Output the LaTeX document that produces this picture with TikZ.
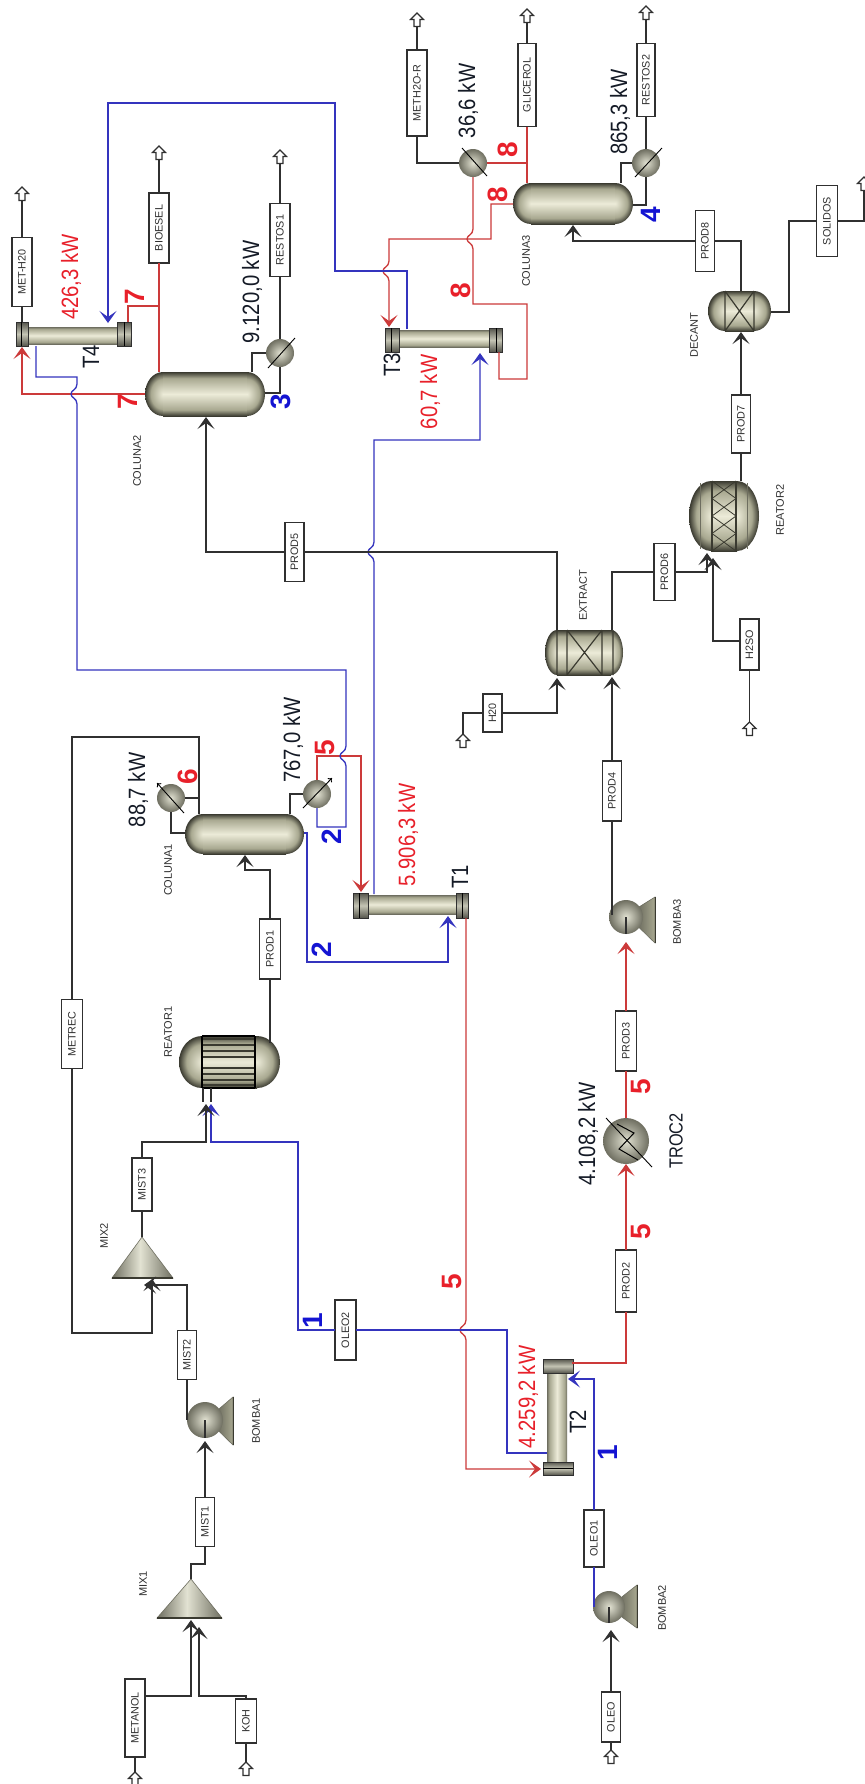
\documentclass[tikz,border=0pt]{standalone}
\usepackage{fontspec}
\setmainfont{Liberation Sans}
\newfontfamily\bigf[FakeStretch=0.86]{Liberation Sans}
\usetikzlibrary{arrows.meta}
\definecolor{vd}{HTML}{3A3A30}
\definecolor{vm}{HTML}{A8A890}
\definecolor{vl}{HTML}{ECEBD8}
\definecolor{hl}{HTML}{E2E2D2}
\definecolor{hd}{HTML}{6E6E60}
\definecolor{fd}{HTML}{55554C}
\definecolor{fl}{HTML}{C4C4B4}
\definecolor{redl}{HTML}{CC3A3A}
\definecolor{bluel}{HTML}{3434BE}
\definecolor{blkl}{HTML}{303030}
\definecolor{redt}{HTML}{E8202A}
\definecolor{bluet}{HTML}{1414D2}
\definecolor{inkt}{HTML}{141A26}
\pgfdeclareverticalshading{vess}{100bp}{color(0bp)=(vd); color(25bp)=(vd); color(32bp)=(vm); color(50bp)=(vl); color(68bp)=(vm); color(75bp)=(vd); color(100bp)=(vd)}
\pgfdeclareverticalshading{tubes}{100bp}{color(0bp)=(hd); color(25bp)=(hd); color(31bp)=(vm); color(50bp)=(vl); color(69bp)=(vm); color(75bp)=(hd); color(100bp)=(hd)}
\pgfdeclareverticalshading{flng}{100bp}{color(0bp)=(fd); color(25bp)=(fd); color(50bp)=(fl); color(75bp)=(fd); color(100bp)=(fd)}
\pgfdeclarehorizontalshading{cone}{100bp}{color(0bp)=(hd); color(25bp)=(hd); color(48bp)=(hl); color(75bp)=(hd); color(100bp)=(hd)}
\pgfdeclareradialshading{vball}{\pgfpoint{0bp}{0bp}}{color(0bp)=(vl); color(17bp)=(vm); color(25bp)=(vd); color(50bp)=(vd)}
\pgfdeclareradialshading{hball}{\pgfpoint{0bp}{0bp}}{color(0bp)=(hl); color(25bp)=(hd); color(50bp)=(hd)}
\tikzset{
  x=0.5pt,y=-0.5pt,
  blk/.style={draw=blkl,line width=0.65pt},
  rd/.style={draw=redl,line width=0.65pt},
  bl/.style={draw=bluel,line width=0.65pt},
  arr/.style={-{Stealth[length=6pt,width=8.5pt,inset=3pt]}},
  unitnode/.style={inner sep=0pt,outer sep=0pt},
  stream/.style={draw=blkl,fill=white,line width=0.6pt,inner sep=0pt,outer sep=0pt,font=\fontsize{5.4}{6}\selectfont,text=blkl},
  sml/.style={inner sep=0pt,rotate=90,font=\fontsize{5.5}{6}\selectfont,text=blkl},
  bigk/.style={inner sep=0pt,rotate=90,font=\bigf\fontsize{11.8}{13}\selectfont,text=inkt},
  bigr/.style={bigk,text=redt},
  midk/.style={inner sep=0pt,rotate=90,font=\bigf\fontsize{9.5}{11}\selectfont,text=inkt},
  rnum/.style={inner sep=0pt,rotate=90,font=\bfseries\fontsize{14}{15}\selectfont,text=redt},
  bnum/.style={rnum,text=bluet},
  hxball/.style={circle,shade,shading=hball,inner sep=0pt,outer sep=0pt},
  hxline/.style={black,line width=0.45pt},
}
\newcommand\sbx[6]{\node[stream,minimum width=#4*0.5pt,minimum height=#5*0.5pt] (#1) at (#2,#3) {\rotatebox{90}{#6}};}
\newcommand\vessel[6]{%
  \pgfmathsetmacro\myvr{(#5-#3)/2}\pgfmathsetmacro\myvc{(#5+#3)/2}%
  \shade[shading=vball] (#2+#6,\myvc) ellipse [x radius=#6,y radius=\myvr];
  \shade[shading=vball] (#4-#6,\myvc) ellipse [x radius=#6,y radius=\myvr];
  \shade[shading=vess] (#2+#6,#3) rectangle (#4-#6,#5);
  \node[unitnode,minimum width={(#4-#2)*0.5pt},minimum height={(#5-#3)*0.5pt}] (#1) at ({(#2+#4)/2},\myvc) {};
}
\newcommand\thx[9]{%
  \shade[shading=tubes] (#2+#6,#8) rectangle (#3-#7,#9);
  \shade[shading=flng,draw=blkl,line width=0.4pt] (#2,#4) rectangle (#2+#6,#5);
  \shade[shading=flng,draw=blkl,line width=0.4pt] (#3-#7,#4) rectangle (#3,#5);
  \draw[black,line width=0.4pt] (#2+#6*0.45,#4) -- (#2+#6*0.45,#5) (#3-#7*0.45,#4) -- (#3-#7*0.45,#5);
  \node[unitnode,minimum width={(#3-#2)*0.5pt},minimum height={(#5-#4)*0.5pt}] (#1) at ({(#2+#3)/2},{(#4+#5)/2}) {};
}
\newcommand\pump[7]{%
  \shade[left color=hd,right color=vm,draw=hd,line width=0.3pt] (#2+#4*0.7,#3-#4*0.55) -- (#5,#6) -- (#5,#7) -- (#2+#4*0.7,#3+#4*0.55) -- cycle;
  \draw[vd,line width=0.5pt] (#5,#6) -- (#5,#7);
  \node[hxball,minimum size=#4*1pt] (#1) at (#2,#3) {};
  \draw[blkl,line width=0.6pt] (#1.center) -- (#1.south);
}
\newcommand\mixer[6]{%
  \shade[shading=cone,draw=hd,line width=0.3pt] (#2,#3) -- (#6,#4) -- (#5,#4) -- cycle;
  \draw[vd,line width=0.7pt] (#5,#4) -- (#6,#4);
  \node[unitnode,minimum width={(#6-#5)*0.5pt},minimum height={(#4-#3)*0.5pt}] (#1) at (#2,{(#3+#4)/2}) {};
}
% hollow up arrow: name, cx, cy
\newcommand\outa[3]{%
  \draw[blkl,fill=white,line width=0.6pt,line join=miter] (#2,#3-7) -- (#2+6.5,#3-0.5) -- (#2+3,#3-0.5) -- (#2+3,#3+6.5) -- (#2-3,#3+6.5) -- (#2-3,#3-0.5) -- (#2-6.5,#3-0.5) -- cycle;
  \node[unitnode,minimum width=6.5pt,minimum height=6.75pt] (#1) at (#2,#3-0.25) {};
}
\newcommand\jv[2]{-- (#1,#2-10) .. controls (#1,#2-4) and (#1-6,#2-4) .. (#1-6,#2) .. controls (#1-6,#2+4) and (#1,#2+4) .. (#1,#2+10)}
\newcommand\jvu[2]{-- (#1,#2+10) .. controls (#1,#2+4) and (#1-6,#2+4) .. (#1-6,#2) .. controls (#1-6,#2-4) and (#1,#2-4) .. (#1,#2-10)}
\begin{document}
\begin{tikzpicture}
\useasboundingbox (0,0) rectangle (865,1784);
\fill[white] (0,0) rectangle (865,1784);
% ---------- equipment
\vessel{COL2}{145}{372}{265}{416}{18}
\vessel{COL3}{513}{183}{633}{224}{18}
\vessel{COL1}{185}{814}{304}{854}{18}
\vessel{REA1}{179}{1036}{280}{1088}{23}
\vessel{EXT}{545}{630}{623}{675}{12}
\vessel{REA2}{689}{481}{759}{551}{22}
\vessel{DEC}{708}{291}{771}{331}{17}
\foreach \yy in {1039,1045,1051,1057,1068,1074,1080,1085} \draw[vd,line width=1pt] (202,\yy) -- (255,\yy);
\draw[black,line width=0.6pt] (202,1036) -- (202,1088) (255,1036) -- (255,1088) (202,1036) -- (255,1036) (202,1088) -- (255,1088);
\draw[vd,line width=0.6pt] (557,630) -- (557,675) (567,630) -- (567,675) (602,630) -- (602,675) (613,630) -- (613,675) (567,630) -- (602,675) (602,630) -- (567,675);
\draw[vd,line width=0.6pt] (712,481) -- (712,551) (736,481) -- (736,551);
\draw[hd,line width=0.5pt] (700,483) -- (700,549) (747,483) -- (747,549);
\foreach \ya/\yb in {481/498.5,498.5/516,516/533.5,533.5/551} \draw[vd,line width=0.4pt] (712,\ya) -- (736,\yb) (736,\ya) -- (712,\yb);
\draw[vd,line width=0.6pt] (725,291) -- (725,331) (754,291) -- (754,331) (725,291) -- (754,331) (754,291) -- (725,331);
\thx{T4}{16}{131}{322}{346}{12}{14}{327}{344}
\thx{T3}{385}{502}{328}{352}{14}{13}{330}{347}
\thx{T1}{353}{468}{893}{918}{15}{12}{895}{914}
\shade[shading=tubes,shading angle=90] (547,1373) rectangle (567,1462);
\shade[shading=flng,draw=blkl,line width=0.4pt] (543,1359) rectangle (573,1373);
\shade[shading=flng,draw=blkl,line width=0.4pt] (543,1462) rectangle (573,1475);
\draw[black,line width=0.4pt] (543,1468) -- (573,1468);
\node[unitnode,minimum width=15pt,minimum height=58pt] (T2) at (558,1417) {};
\node[hxball,minimum size=14pt] (HX2) at (280,353) {};
\node[hxball,minimum size=14pt] (HXC3) at (473,163) {};
\node[hxball,minimum size=14pt] (HXB3) at (646,163) {};
\node[hxball,minimum size=14pt] (HXT1) at (171,798) {};
\node[hxball,minimum size=14pt] (HXB1) at (317,794) {};
\node[hxball,minimum size=23pt] (TROC) at (626,1141) {};
\draw[hxline] (268,368) -- (295,338);
\draw[hxline] (462,148) -- (487,176);
\draw[hxline] (635,177) -- (662,148);
\draw[hxline,{To[length=1.8pt,width=3pt]}-] (157,783) -- (184,813);
\draw[hxline,-{To[length=1.8pt,width=3pt]}] (303,808) -- (332,778);
\draw[hxline] (606,1118) -- (652,1167);
\draw[black,line width=0.5pt] (617,1124) -- (634,1133) -- (619,1149) -- (638,1160);
\pump{BOM1}{205}{1420}{18}{233}{1397}{1445}
\pump{BOM3}{626}{917}{17}{655}{897}{943}
\pump{BOM2}{609}{1607}{16}{637}{1585}{1628}
\mixer{MX2}{142}{1237}{1278}{112}{173}
\mixer{MX1}{191}{1579}{1618}{157}{222}
% ---------- stream boxes
\sbx{sMETH}{22}{272}{20}{69}{MET-H20}
\sbx{sBIO}{159}{228}{20}{70}{BIOESEL}
\sbx{sRES1}{280}{240}{20}{73}{RESTOS1}
\sbx{sMETHR}{417}{93}{20}{86}{METH2O-R}
\sbx{sGLI}{527}{85}{18}{83}{GLICEROL}
\sbx{sRES2}{646}{80}{18}{73}{RESTOS2}
\sbx{sP8}{705}{241}{19}{61}{PROD8}
\sbx{sSOL}{827}{221}{21}{71}{SOLIDOS}
\sbx{sP7}{741}{424}{19}{58}{PROD7}
\sbx{sP6}{664.5}{572}{21}{57}{PROD6}
\sbx{sH2S}{749.5}{644.5}{19}{51}{H2SO}
\sbx{sH20}{492.5}{713}{19}{38}{H20}
\sbx{sP4}{612}{791}{19}{60}{PROD4}
\sbx{sP5}{294.5}{552}{19}{59}{PROD5}
\sbx{sP1}{270}{949}{21}{60}{PROD1}
\sbx{sMETR}{72}{1034}{21}{69}{METREC}
\sbx{sM3}{142}{1184.5}{20}{53}{MIST3}
\sbx{sM2}{187}{1355}{19}{49}{MIST2}
\sbx{sM1}{205}{1522}{19}{49}{MIST1}
\sbx{sO2}{345.5}{1330}{21}{60}{OLEO2}
\sbx{sMET}{135}{1718}{20}{78}{METANOL}
\sbx{sKOH}{246}{1721}{21}{44}{KOH}
\sbx{sP3}{626}{1041}{21}{60}{PROD3}
\sbx{sP2}{626}{1281}{21}{62}{PROD2}
\sbx{sO1}{594}{1538.5}{20}{57}{OLEO1}
\sbx{sOL}{611}{1717}{19}{50}{OLEO}
% ---------- hollow terminal arrows
\outa{aMETH}{22}{194}
\outa{aBIO}{159}{153}
\outa{aRES1}{280}{157}
\outa{aMETHR}{417}{20}
\outa{aGLI}{527}{16}
\outa{aRES2}{646}{13}
\outa{aSOL}{864}{184}
\outa{aH20}{463}{741}
\outa{aH2S}{749.5}{729}
\outa{aMET}{135}{1779}
\outa{aKOH}{246}{1769}
\outa{aOL}{611}{1757}
% ---------- ports
\coordinate (T4blue) at (108,323);
\coordinate (T4o) at (36,346);
\coordinate (T4r) at (128,322);
\coordinate (T4l) at (22,347);
\coordinate (T4t) at (22,322);
\coordinate (T3o) at (407,329);
\coordinate (T3i) at (389,327);
\coordinate (T3r) at (499,352);
\coordinate (T3b) at (480,353);
\coordinate (T1i) at (361,892);
\coordinate (T1o) at (374,894);
\coordinate (T1b) at (448,916);
\coordinate (T1r) at (466,918);
\coordinate (T2i) at (541,1469);
\coordinate (T2b) at (547,1453);
\coordinate (T2r) at (572,1363);
\coordinate (T2c) at (568,1379);
\coordinate (C2t) at (159,372);
\coordinate (C2b) at (252,372);
\coordinate (C2w) at (145,394);
\coordinate (C2e) at (265,393);
\coordinate (C2i) at (206,417);
\coordinate (C3t) at (527,183);
\coordinate (C3w) at (513,204);
\coordinate (C3b) at (621,183);
\coordinate (C3e) at (633,205);
\coordinate (C3i) at (573,225);
\coordinate (C1t) at (199,814);
\coordinate (C1w) at (185,833);
\coordinate (C1b) at (290,814);
\coordinate (C1e) at (304,833);
\coordinate (C1i) at (245,855);
\coordinate (R1o) at (270,1043);
\coordinate (R1k) at (206,1104);
\coordinate (R1b) at (211,1104);
\coordinate (DECi) at (741,332);
\coordinate (DECt) at (741,291);
\coordinate (DECe) at (771,312);
\coordinate (R2t) at (741,481);
\coordinate (R2a) at (707,553);
\coordinate (R2b) at (713,558);
\coordinate (EXo) at (612,630);
\coordinate (EXp) at (557,630);
\coordinate (EXa) at (557,678);
\coordinate (EXb) at (612,677);
\coordinate (B3o) at (612,915);
\coordinate (B3i) at (626,942);
\coordinate (B2o) at (594,1607);
\coordinate (B2i) at (611,1630);
\coordinate (B1i) at (205,1441);
\coordinate (M2a) at (152,1279);
\coordinate (M2b) at (144,1285);
\coordinate (M1a) at (191,1620);
\coordinate (M1b) at (199,1627);
\coordinate (H2w) at (740,641);
\coordinate (MTe) at (145,1696);
\coordinate (KOt) at (246,1699);
% ---------- red connectors
\draw[rd,arr] (C3w) -- (491,204) -- (491,239) -- (389,239) \jv{389}{271} -- (T3i);
\draw[rd] (HXC3.south) \jv{473}{239} -- (473,304) -- (527,304) -- (527,379) -- (499,379) -- (T3r);
\draw[rd] (HXC3.east) -- (527,163);
\draw[rd] (sGLI.south) -- (C3t);
\draw[rd] (sBIO.south) -- (C2t);
\draw[rd] (159,306) -- (128,306) -- (T4r);
\draw[rd,arr] (C2w) -- (22,394) -- (T4l);
\draw[rd,arr] (HXB1.north) -- (317,756) -- (361,756) -- (T1i);
\draw[rd,arr] (T1r) \jv{466}{1330} -- (466,1469) -- (T2i);
\draw[rd] (T2r) -- (626,1363) -- (sP2.south);
\draw[rd,arr] (sP2.north) -- (TROC.south);
\draw[rd] (TROC.north) -- (sP3.south);
\draw[rd,arr] (sP3.north) -- (B3i);
% ---------- blue connectors
\draw[bl,arr] (T3o) -- (407,271) -- (335,271) -- (335,103) -- (108,103) -- (T4blue);
\draw[bl] (T4o) -- (36,377) -- (77,377) \jv{77}{394} -- (77,670) -- (346,670) \jv{346}{756} -- (346,827) -- (317,827) -- (HXB1.south);
\draw[bl,arr] (T1o) \jvu{374}{552} -- (374,440) -- (480,440) -- (T3b);
\draw[bl,arr] (C1e) -- (307,833) -- (307,962) -- (448,962) -- (T1b);
\draw[bl] (T2b) -- (507,1453) -- (507,1330) -- (sO2.east);
\draw[bl,arr] (sO2.west) -- (298,1330) -- (298,1142) -- (211,1142) -- (R1b);
\draw[bl,arr] (sO1.north) -- (594,1379) -- (T2c);
\draw[bl] (B2o) -- (sO1.south);
% ---------- black connectors
\draw[blk] (T4t) -- (sMETH.south);
\draw[blk] (sMETH.north) -- (aMETH.south);
\draw[blk] (sBIO.north) -- (aBIO.south);
\draw[blk] (sRES1.north) -- (aRES1.south);
\draw[blk] (sMETHR.north) -- (aMETHR.south);
\draw[blk] (sGLI.north) -- (aGLI.south);
\draw[blk] (sRES2.north) -- (aRES2.south);
\draw[blk] (C2b) -- (252,353) -- (HX2.west);
\draw[blk] (HX2.south) -- (280,393) -- (C2e);
\draw[blk] (HX2.north) -- (sRES1.south);
\draw[blk] (sMETHR.south) -- (417,163) -- (HXC3.west);
\draw[blk] (C3b) -- (621,163) -- (HXB3.west);
\draw[blk] (HXB3.south) -- (646,205) -- (C3e);
\draw[blk] (HXB3.north) -- (sRES2.south);
\draw[blk,arr] (sP8.west) -- (573,241) -- (C3i);
\draw[blk] (DECt) -- (741,241) -- (sP8.east);
\draw[blk] (DECe) -- (789,312) -- (789,221) -- (sSOL.west);
\draw[blk] (sSOL.east) -- (864,221) -- (aSOL.south);
\draw[blk] (R2t) -- (sP7.south);
\draw[blk,arr] (sP7.north) -- (DECi);
\draw[blk,arr] (sP6.east) -- (707,572) -- (R2a);
\draw[blk,arr] (H2w) -- (713,641) -- (R2b);
\draw[blk] (sH2S.south) -- (aH2S.north);
\draw[blk] (EXo) -- (612,572) -- (sP6.west);
\draw[blk] (EXp) -- (557,552) -- (sP5.east);
\draw[blk,arr] (sP5.west) -- (206,552) -- (C2i);
\draw[blk,arr] (sH20.east) -- (557,713) -- (EXa);
\draw[blk] (sH20.west) -- (463,713) -- (aH20.north);
\draw[blk,arr] (sP4.north) -- (EXb);
\draw[blk] (B3o) -- (sP4.south);
\draw[blk] (HXT1.east) -- (199,798) -- (C1t);
\draw[blk] (HXT1.south) -- (171,833) -- (C1w);
\draw[blk] (C1b) -- (290,794) -- (HXB1.west);
\draw[blk] (C1t) -- (199,737) -- (72,737) -- (sMETR.north);
\draw[blk,arr] (sMETR.south) -- (72,1333) -- (152,1333) -- (M2a);
\draw[blk,arr] (sP1.north) -- (270,870) -- (245,870) -- (C1i);
\draw[blk] (R1o) -- (sP1.south);
\draw[blk,arr] (sM3.north) -- (142,1142) -- (206,1142) -- (R1k);
\draw[blk] (203,1088) -- (203,1102);
\draw[blk] (211,1088) -- (211,1102);
\draw[blk] (MX2.north) -- (sM3.south);
\draw[blk,arr] (sM2.north) -- (187,1285) -- (M2b);
\draw[blk] (BOM1.west) -- (sM2.south);
\draw[blk,arr] (sM1.north) -- (B1i);
\draw[blk] (MX1.north) -- (191,1564) -- (205,1564) -- (sM1.south);
\draw[blk,arr] (MTe) -- (191,1696) -- (M1a);
\draw[blk,arr] (KOt) -- (246,1696) -- (199,1696) -- (M1b);
\draw[blk] (sMET.south) -- (aMET.north);
\draw[blk] (sKOH.south) -- (aKOH.north);
\draw[blk,arr] (sOL.north) -- (B2i);
\draw[blk] (sOL.south) -- (aOL.north);
% ---------- labels
\node[bigk] (l1) at (252,292) {9.120,0 kW};
\node[bigr] (l2) at (71,277) {426,3 kW};
\node[bigk] (l3) at (91,357) {T4};
\node[bigk] (l4) at (392,365) {T3};
\node[bigr] (l5) at (430,392) {60,7 kW};
\node[bigk] (l6) at (468,101) {36,6 kW};
\node[bigk] (l7) at (620,112) {865,3 kW};
\node[bigk] (l8) at (293,740) {767,0 kW};
\node[bigr] (l9) at (408,835) {5.906,3 kW};
\node[bigk] (l10) at (138,790) {88,7 kW};
\node[bigk] (l11) at (460,877) {T1};
\node[bigk] (l12) at (588,1134) {4.108,2 kW};
\node[midk] (l13) at (676,1141) {TROC2};
\node[bigr] (l14) at (528,1397) {4.259,2 kW};
\node[bigk] (l15) at (578,1422) {T2};
\node[rnum] (n1) at (135,297) {7};
\node[rnum] (n2) at (128,402) {7};
\node[bnum] (n3) at (281,402) {3};
\node[rnum] (n4) at (508,150) {8};
\node[rnum] (n5) at (498,195) {8};
\node[rnum] (n6) at (461,291) {8};
\node[bnum] (n7) at (651,215) {4};
\node[rnum] (n8) at (325,748) {5};
\node[bnum] (n9) at (332,837) {2};
\node[rnum] (n10) at (188,777) {6};
\node[bnum] (n11) at (322,950) {2};
\node[bnum] (n12) at (313,1321) {1};
\node[rnum] (n13) at (452,1282) {5};
\node[rnum] (n14) at (641,1087) {5};
\node[rnum] (n15) at (641,1232) {5};
\node[bnum] (n16) at (608,1453) {1};
\node[sml] (m1) at (137,461) {COLUNA2};
\node[sml] (m2) at (526,261) {COLUNA3};
\node[sml] (m3) at (168,870) {COLUNA1};
\node[sml] (m4) at (694,335) {DECANT};
\node[sml] (m5) at (583,595) {EXTRACT};
\node[sml] (m6) at (780,510) {REATOR2};
\node[sml] (m7) at (168,1032) {REATOR1};
\node[sml] (m8) at (104,1236) {MIX2};
\node[sml] (m9) at (143,1584) {MIX1};
\node[sml] (m10) at (677,922) {BOMBA3};
\node[sml] (m11) at (256,1421) {BOMBA1};
\node[sml] (m12) at (662,1608) {BOMBA2};
\end{tikzpicture}
\end{document}
